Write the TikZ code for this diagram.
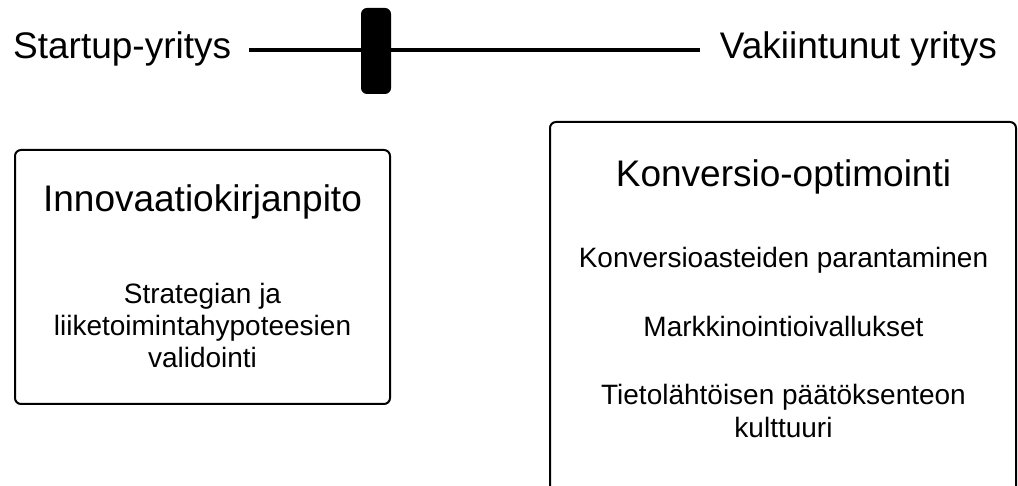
\documentclass[tikz,border=0pt]{standalone}
\usepackage{fontspec}
\setmainfont{Liberation Sans}
\begin{document}
\begin{tikzpicture}[x=1pt,y=-1pt,
  bigtext/.style={font=\fontsize{37}{44}\selectfont, inner sep=0pt, anchor=base},
  bodytext/.style={font=\fontsize{28}{33}\selectfont, inner sep=0pt, anchor=base},
  panel/.style={draw=black, line width=2pt, rounded corners=6pt, fill=white}]
  \useasboundingbox (0,0) rectangle (1018,486);
  \fill[white] (0,0) rectangle (1018,486);

  % scale between the two company stages
  \node[bigtext, anchor=base west] (startup) at (13,59) {Startup-yritys};
  \node[bigtext, anchor=base east] (mature) at (997,59) {Vakiintunut yritys};
  \coordinate (lineL) at (249,50);
  \coordinate (lineR) at (700,50);
  \draw[line width=4pt] (lineL) -- (lineR);
  \fill[rounded corners=6pt] (361,8) rectangle (391,94);

  % left panel
  \draw[panel] (15,150) rectangle (390,404);
  \node[bigtext] (innov) at (202.5,212) {Innovaatiokirjanpito};
  \node[bodytext] (l1) at (202.5,304) {Strategian ja};
  \node[bodytext] (l2) at (202.5,336) {liiketoimintahypoteesien};
  \node[bodytext] (l3) at (202.5,368) {validointi};

  % right panel
  \draw[panel] (550,122) rectangle (1016,520);
  \node[bigtext] (conv) at (783.5,187) {Konversio-optimointi};
  \node[bodytext] (r1) at (783.5,268) {Konversioasteiden parantaminen};
  \node[bodytext] (r2) at (783.5,337) {Markkinointioivallukset};
  \node[bodytext] (r3) at (783.5,405) {Tietolähtöisen päätöksenteon};
  \node[bodytext] (r4) at (783.5,438) {kulttuuri};
\end{tikzpicture}
\end{document}
